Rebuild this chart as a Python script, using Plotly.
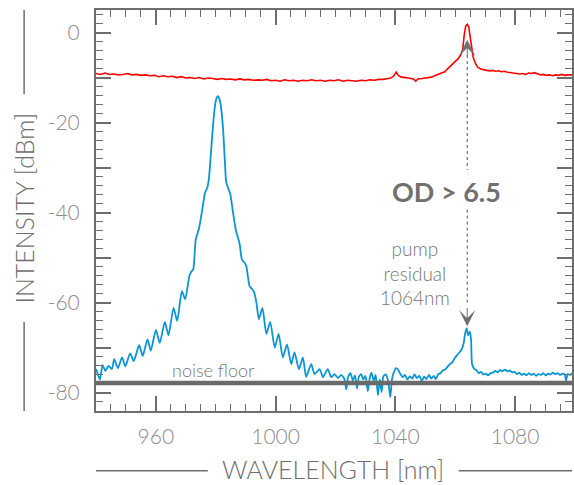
import plotly.graph_objects as go

# ---------------- data ----------------
BLUE_WL = [940.0, 940.6, 941.3, 942.2, 943.1, 944.2, 945.3, 946.1, 947.3, 948.7,
           949.8, 951.4, 952.6, 954.4, 955.6, 957.2, 958.3, 960.0, 961.3, 963.0,
           964.2, 965.9, 967.1, 968.7, 969.8, 971.2, 971.9, 972.5, 973.3, 974.4,
           975.2, 975.8, 976.4, 977.2, 977.7, 978.3, 979.1, 979.8, 980.3, 980.7,
           981.1, 981.6, 982.4, 983.0, 983.5, 984.2, 984.9, 985.8, 986.7, 987.4,
           988.0, 988.7, 989.5, 990.2, 991.3, 992.2, 992.8, 993.6, 994.4, 995.6,
           996.9, 998.2, 999.7, 1001.0, 1002.4, 1003.8, 1005.2, 1006.3, 1007.8, 1009.1,
           1010.2, 1011.9, 1013.0, 1014.7, 1015.8, 1017.4, 1018.6, 1019.7, 1020.8, 1021.9,
           1023.0, 1023.6, 1024.2, 1025.0, 1025.8, 1026.5, 1027.2, 1027.8, 1028.6, 1029.3,
           1030.0, 1030.8, 1031.4, 1032.0, 1032.8, 1033.4, 1034.2, 1034.8, 1035.4, 1036.0,
           1036.8, 1037.6, 1038.3, 1038.9, 1039.6, 1040.2, 1040.9, 1041.6, 1042.4, 1043.2,
           1044.0, 1044.8, 1045.6, 1046.4, 1047.2, 1048.0, 1048.8, 1049.6, 1050.4, 1051.2,
           1052.0, 1052.8, 1053.5, 1054.3, 1055.1, 1055.8, 1056.6, 1057.4, 1058.2, 1059.0,
           1059.8, 1060.6, 1061.4, 1062.2, 1062.8, 1063.3, 1063.8, 1064.3, 1064.9, 1065.3,
           1065.6, 1066.3, 1067.0, 1067.8, 1068.6, 1069.4, 1070.2, 1071.0, 1071.8, 1072.6,
           1073.4, 1074.2, 1075.0, 1075.8, 1076.6, 1077.4, 1078.2, 1079.0, 1079.8, 1080.6,
           1081.4, 1082.2, 1083.0, 1083.8, 1084.6, 1085.4, 1086.2, 1087.0, 1087.8, 1088.6,
           1089.4, 1090.2, 1091.0, 1091.8, 1092.6, 1093.4, 1094.2, 1095.0, 1095.8, 1096.6,
           1097.0, 1097.6, 1098.4, 1099.0]
BLUE_DBM = [-74.7, -75.8, -77.0, -73.8, -75.1, -74.0, -74.7, -72.5, -74.5, -72.1,
            -74.1, -71.2, -72.9, -69.4, -71.8, -68.1, -70.6, -66.0, -68.9, -64.2,
            -67.2, -61.1, -64.0, -57.4, -59.2, -54.0, -53.0, -52.5, -46.0, -43.5,
            -40.5, -38.0, -35.6, -34.4, -32.5, -27.6, -20.5, -16.0, -14.5, -14.1,
            -14.5, -15.8, -21.0, -28.0, -33.2, -34.6, -36.0, -40.1, -43.8, -45.5,
            -47.0, -50.3, -51.0, -51.8, -56.3, -57.0, -57.6, -60.0, -63.6, -61.1,
            -66.9, -64.2, -69.9, -66.9, -72.1, -69.2, -73.6, -71.0, -74.7, -72.1,
            -76.4, -73.6, -75.8, -74.7, -76.5, -74.7, -76.5, -75.8, -76.7, -76.0,
            -76.9, -79.2, -76.5, -75.6, -77.2, -76.1, -79.0, -76.4, -75.8, -77.0,
            -76.2, -79.6, -76.8, -75.5, -77.3, -76.0, -80.5, -77.0, -79.8, -76.3,
            -75.9, -77.4, -80.9, -76.8, -75.2, -74.5, -74.8, -75.7, -76.5, -76.0,
            -77.0, -76.3, -76.8, -75.9, -76.7, -76.2, -77.3, -76.4, -76.9, -76.0,
            -76.8, -76.2, -76.9, -75.8, -75.6, -75.0, -74.8, -74.2, -73.6, -73.2,
            -72.3, -71.6, -71.0, -70.2, -69.0, -66.8, -65.6, -67.2, -66.4, -68.3,
            -73.5, -74.6, -74.9, -75.6, -75.3, -75.9, -75.7, -76.1, -75.6, -75.5,
            -75.1, -75.4, -74.9, -75.2, -74.8, -75.2, -75.0, -75.4, -75.3, -75.8,
            -75.5, -76.0, -75.7, -76.1, -75.6, -76.0, -75.7, -76.2, -75.8, -76.0,
            -75.6, -76.1, -75.7, -75.9, -75.5, -75.8, -75.6, -76.0, -75.7, -75.9,
            -77.3, -75.8, -76.0, -75.6]

RED_WL = [940.0, 941.5, 943.0, 944.5, 946.0, 947.5, 949.0, 950.5, 952.0, 953.5,
          955.0, 956.5, 958.0, 959.5, 961.0, 962.5, 964.0, 965.5, 967.0, 968.5,
          970.0, 971.5, 973.0, 974.5, 976.0, 977.5, 979.0, 980.5, 982.0, 983.5,
          985.0, 986.5, 988.0, 989.5, 991.0, 992.5, 994.0, 995.5, 997.0, 998.5,
          1000.0, 1001.5, 1003.0, 1004.5, 1006.0, 1007.5, 1009.0, 1010.5, 1012.0, 1013.5,
          1015.0, 1016.5, 1018.0, 1019.5, 1021.0, 1022.5, 1024.0, 1025.5, 1027.0, 1028.5,
          1030.0, 1031.5, 1033.0, 1034.5, 1036.0, 1037.5, 1038.5, 1039.5, 1040.3, 1041.0,
          1042.0, 1043.5, 1045.0, 1046.0, 1046.8, 1047.5, 1049.0, 1050.5, 1052.0, 1053.5,
          1054.5, 1055.5, 1056.5, 1057.5, 1058.3, 1059.0, 1060.0, 1061.0, 1061.8, 1062.5,
          1063.0, 1063.5, 1064.0, 1064.5, 1065.0, 1065.5, 1066.0, 1066.7, 1067.5, 1068.5,
          1069.5, 1070.5, 1071.5, 1072.5, 1073.5, 1074.5, 1075.5, 1076.5, 1077.5, 1078.5,
          1079.5, 1080.5, 1081.5, 1082.5, 1083.5, 1084.5, 1085.5, 1086.5, 1087.5, 1088.5,
          1089.5, 1090.5, 1091.5, 1092.5, 1093.5, 1094.5, 1095.5, 1096.5, 1097.5, 1099.0]
RED_DBM = [-9.1, -9.3, -9.0, -9.3, -9.2, -9.4, -9.3, -9.1, -9.4, -9.3,
           -9.5, -9.4, -9.6, -9.5, -9.8, -9.6, -9.8, -9.7, -10.0, -9.8,
           -10.1, -10.0, -10.2, -10.0, -10.3, -10.1, -10.2, -10.4, -10.2, -10.4,
           -10.3, -10.5, -10.3, -10.5, -10.4, -10.6, -10.5, -10.6, -10.4, -10.7,
           -10.6, -10.8, -10.5, -10.7, -10.6, -10.8, -10.6, -10.7, -10.5, -10.7,
           -10.6, -10.8, -10.6, -10.7, -10.5, -10.8, -10.6, -10.7, -10.8, -10.6,
           -10.7, -10.5, -10.6, -10.4, -10.4, -10.2, -10.1, -9.6, -8.8, -9.5,
           -9.9, -10.0, -10.1, -10.3, -10.8, -10.3, -10.2, -10.0, -9.9, -9.5,
           -9.2, -8.9, -8.7, -8.0, -7.5, -7.2, -6.5, -5.8, -5.0, -3.8,
           -0.5, 1.4, 1.8, 1.3, -1.0, -3.6, -5.5, -6.8, -7.7, -8.1,
           -8.3, -8.4, -8.5, -8.4, -8.6, -8.5, -8.7, -8.6, -8.8, -8.9,
           -9.0, -9.1, -9.2, -9.1, -9.3, -9.0, -9.1, -8.9, -9.2, -9.4,
           -9.3, -9.5, -9.4, -9.6, -9.4, -9.5, -9.3, -9.5, -9.4, -9.4]

NOISE_FLOOR = -77.8
PUMP_WL = 1064.0
X_RANGE = [940, 1099]
Y_RANGE = [-84, 5]
X_TICKS = [960, 1000, 1040, 1080]
X_LABELS = ["960", "1000", "1040", "1080"]
Y_TICKS = [-80, -70, -60, -50, -40, -30, -20, -10, 0]
Y_LABELS = ["-80", "", "-60", "", "-40", "", "-20", "", "0"]

# ---------------- styling ----------------
AX = "#6e6e6e"
TICKTXT = "#8a8a8a"
TXT = "#6e6e6e"
FONT = "Lato"

fig = go.Figure()
fig.add_trace(go.Scatter(x=RED_WL, y=RED_DBM, mode="lines",
                         line=dict(color="#ff0000", width=1.6), hoverinfo="skip"))
fig.add_trace(go.Scatter(x=BLUE_WL, y=BLUE_DBM, mode="lines",
                         line=dict(color="#0a96d4", width=1.8, shape="spline", smoothing=0.6),
                         hoverinfo="skip"))
# empty traces that register the extra (tick-only) axes
for xa, ya in [("x2", "y"), ("x3", "y"), ("x4", "y"), ("x", "y2"), ("x", "y3"), ("x", "y4")]:
    fig.add_trace(go.Scatter(x=[], y=[], xaxis=xa, yaxis=ya, hoverinfo="skip"))

base = dict(ticks="inside", tickcolor=AX, showgrid=False, zeroline=False,
            automargin=False, mirror=False)
lab_font = dict(family=FONT, size=21, color=TICKTXT, weight=300)
x_major = dict(range=X_RANGE, tickmode="array", tickvals=X_TICKS, ticktext=X_LABELS,
               ticklen=15, tickwidth=1.5)
x_minor = dict(range=X_RANGE, tickmode="linear", tick0=940, dtick=5, ticklen=7,
               tickwidth=1.2, showticklabels=False, showline=False)
y_major = dict(range=Y_RANGE, tickmode="array", tickvals=Y_TICKS, ticktext=Y_LABELS,
               ticklen=15, tickwidth=1.5)
y_minor = dict(range=Y_RANGE, tickmode="linear", tick0=0, dtick=2, ticklen=7,
               tickwidth=1.2, showticklabels=False, showline=False)

fig.update_layout(
    xaxis=dict(**x_major, side="bottom", anchor="y", showline=True, linecolor=AX,
               linewidth=2, tickfont=lab_font, ticklabelstandoff=6, **base),
    xaxis2=dict(**x_minor, side="bottom", anchor="y", overlaying="x", **base),
    xaxis3=dict(**x_major, side="top", anchor="y", overlaying="x", showticklabels=False,
                showline=True, linecolor=AX, linewidth=2, **base),
    xaxis4=dict(**x_minor, side="top", anchor="y", overlaying="x", **base),
    yaxis=dict(**y_major, side="left", anchor="x", showline=True, linecolor=AX,
               linewidth=2, tickfont=lab_font, ticklabelstandoff=10, **base),
    yaxis2=dict(**y_minor, side="left", anchor="x", overlaying="y", **base),
    yaxis3=dict(**y_major, side="right", anchor="x", overlaying="y", showticklabels=False,
                showline=True, linecolor=AX, linewidth=2, **base),
    yaxis4=dict(**y_minor, side="right", anchor="x", overlaying="y", **base),
)

shapes = []
# noise floor
shapes.append(dict(type="line", xref="paper", x0=0, x1=1, yref="y",
                   y0=NOISE_FLOOR, y1=NOISE_FLOOR, layer="above",
                   line=dict(color="#6a6a6a", width=4.5)))
# dashed pump guide (two segments around the OD label)
shapes.append(dict(type="line", xref="x", yref="y", x0=PUMP_WL, x1=PUMP_WL,
                   y0=-5.0, y1=-30.5, line=dict(color="#555555", width=1, dash="3px,3px")))
shapes.append(dict(type="line", xref="x", yref="y", x0=PUMP_WL, x1=PUMP_WL,
                   y0=-39.3, y1=-60.5, line=dict(color="#555555", width=1, dash="3px,3px")))
# axis-title rules
TL = dict(color=AX, width=1.5)
shapes += [
    dict(type="line", xref="paper", yref="paper", x0=-0.151, x1=-0.151, y0=1.0, y1=0.79, line=TL),
    dict(type="line", xref="paper", yref="paper", x0=-0.151, x1=-0.151, y0=0.222, y1=0.0, line=TL),
    dict(type="line", xref="paper", yref="paper", x0=0.0, x1=0.235, y0=-0.149, y1=-0.149, line=TL),
    dict(type="line", xref="paper", yref="paper", x0=0.762, x1=1.0, y0=-0.149, y1=-0.149, line=TL),
]

annotations = [
    dict(text="INTENSITY [dBm]", xref="paper", yref="paper", x=-0.151, y=0.505,
         xanchor="center", yanchor="middle", textangle=-90, showarrow=False,
         font=dict(family=FONT, size=25, color=TXT, weight=300)),
    dict(text="WAVELENGTH [nm]", xref="paper", yref="paper", x=0.497, y=-0.145,
         xanchor="center", yanchor="middle", showarrow=False,
         font=dict(family=FONT, size=25, color=TXT, weight=300)),
    dict(text="noise floor", x=979.3, y=-75.0, xref="x", yref="y", showarrow=False,
         font=dict(family=FONT, size=18, color="#777777", weight=300)),
    dict(text="pump<br>residual<br>1064nm", x=1046.7, y=-53.3, xref="x", yref="y",
         showarrow=False, font=dict(family=FONT, size=19, color="#777777", weight=300)),
    dict(text="<b>OD &gt; 6.5</b>", x=1057, y=-35.3, xref="x", yref="y", showarrow=False,
         font=dict(family=FONT, size=27, color="#707070", weight=900)),
    # arrowheads
    dict(text="", x=PUMP_WL, y=-1.6, ax=PUMP_WL, ay=-5.6, xref="x", yref="y",
         axref="x", ayref="y", showarrow=True, arrowhead=3, arrowsize=2.7,
         arrowwidth=1, arrowcolor="#707070"),
    dict(text="", x=PUMP_WL, y=-65.2, ax=PUMP_WL, ay=-60.8, xref="x", yref="y",
         axref="x", ayref="y", showarrow=True, arrowhead=3, arrowsize=2.7,
         arrowwidth=1, arrowcolor="#707070"),
]

fig.update_layout(width=574, height=485, margin=dict(l=96, r=2, t=10, b=74),
                  plot_bgcolor="white", paper_bgcolor="white", showlegend=False,
                  shapes=shapes, annotations=annotations,
                  font=dict(family=FONT, color=TXT))

fig.write_html("out.html", config={"displayModeBar": False},
               post_script="document.body.style.margin='0';document.body.style.padding='0';")
